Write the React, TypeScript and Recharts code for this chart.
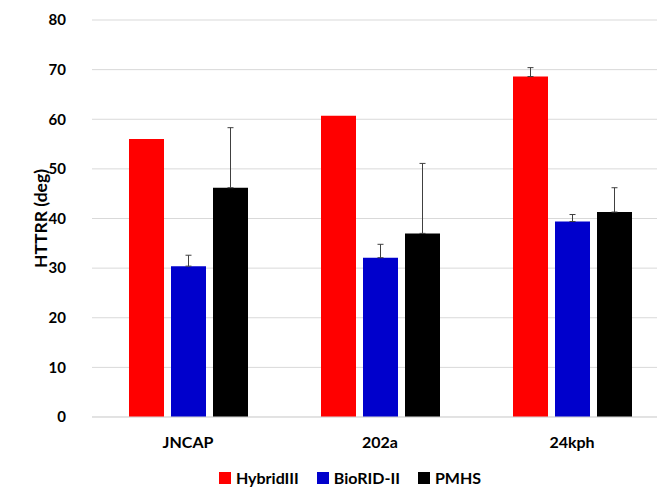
import { Bar, BarChart, CartesianGrid, ErrorBar, Legend, XAxis, YAxis } from 'recharts';

const categories = ['JNCAP', '202a', '24kph'];
const seriesNames = ['HybridIII', 'BioRID-II', 'PMHS'];

// mean values per test condition (deg)
const hybridIII = [56.0, 60.7, 68.6];
const bioridII = [30.4, 32.1, 39.4];
const pmhs = [46.2, 37.0, 41.3];

// upper standard deviation (null = single test, no bar)
const hybridIIIErr = [null, null, 1.8];
const bioridIIErr = [2.2, 2.7, 1.4];
const pmhsErr = [12.1, 14.1, 4.9];

const yTicks = [0, 10, 20, 30, 40, 50, 60, 70, 80];

const upper = (v: number | null) => (v == null ? null : [0, v]);

const data = categories.map((name, i) => ({
  name,
  hybridIII: hybridIII[i],
  hybridIIIErr: upper(hybridIIIErr[i]),
  bioridII: bioridII[i],
  bioridIIErr: upper(bioridIIErr[i]),
  pmhs: pmhs[i],
  pmhsErr: upper(pmhsErr[i]),
}));

const font = 'Lato, "Open Sans", sans-serif';

function LegendContent({ payload }: { payload?: { value: string; color: string }[] }) {
  // keep series order instead of the legend's alphabetical sort
  const items = seriesNames
    .map((n) => (payload ?? []).find((p) => p.value === n))
    .filter(Boolean) as { value: string; color: string }[];
  return (
    <div style={{ display: 'flex', justifyContent: 'center', gap: 18, fontFamily: font, fontWeight: 700, fontSize: 16, lineHeight: '20px', color: '#000' }}>
      {items.map((e) => (
        <span key={e.value} style={{ display: 'flex', alignItems: 'center' }}>
          <span style={{ display: 'inline-block', width: 12, height: 12, background: e.color, marginRight: 5 }} />
          {e.value}
        </span>
      ))}
    </div>
  );
}

function AxisTitle({ viewBox }: any) {
  const cx = viewBox.x + 40;
  const cy = viewBox.y + viewBox.height / 2;
  return (
    <text
      x={cx}
      y={cy}
      transform={`rotate(-90, ${cx}, ${cy})`}
      textAnchor="middle"
      dominantBaseline="central"
      style={{ fontFamily: font, fontWeight: 700, fontSize: 17.5, fill: '#000' }}
    >
      HTTRR (deg)
    </text>
  );
}

export default function App() {
  const yTickStyle = { fontFamily: font, fontWeight: 700, fontSize: 15, fill: '#000' };
  const xTickStyle = { fontFamily: font, fontWeight: 700, fontSize: 16, fill: '#000' };
  return (
    <div style={{ position: 'fixed', left: 0, top: 0, width: 657, height: 490, overflow: 'hidden', background: '#fff' }}>
      <BarChart
        width={668}
        height={490}
        data={data}
        margin={{ top: 20, right: 0, left: 0, bottom: 43 }}
        barGap={7}
      >
        <CartesianGrid vertical={false} stroke="#d9d9d9" />
        <XAxis
          dataKey="name"
          height={30}
          tick={xTickStyle}
          tickLine={false}
          tickSize={0}
          tickMargin={20}
          axisLine={{ stroke: '#d9d9d9' }}
        />
        <YAxis
          width={92}
          domain={[0, 80]}
          ticks={yTicks}
          interval={0}
          tick={yTickStyle}
          tickLine={false}
          tickSize={0}
          tickMargin={26}
          axisLine={false}
          label={<AxisTitle />}
        />
        <Legend
          verticalAlign="middle"
          align="center"
          wrapperStyle={{ left: 190, top: 468, width: 320 }}
          content={<LegendContent />}
        />
        <Bar dataKey="hybridIII" name="HybridIII" fill="#ff0000" barSize={35} isAnimationActive={false}>
          <ErrorBar dataKey="hybridIIIErr" width={3} stroke="#404040" strokeWidth={1} />
        </Bar>
        <Bar dataKey="bioridII" name="BioRID-II" fill="#0000cc" barSize={35} isAnimationActive={false}>
          <ErrorBar dataKey="bioridIIErr" width={3} stroke="#404040" strokeWidth={1} />
        </Bar>
        <Bar dataKey="pmhs" name="PMHS" fill="#000000" barSize={35} isAnimationActive={false}>
          <ErrorBar dataKey="pmhsErr" width={3} stroke="#404040" strokeWidth={1} />
        </Bar>
      </BarChart>
    </div>
  );
}
